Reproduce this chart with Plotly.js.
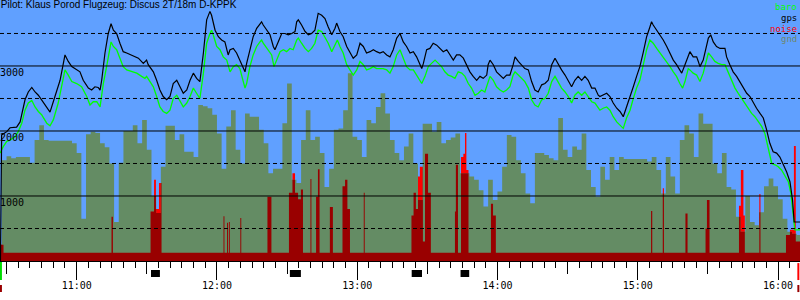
<!DOCTYPE html>
<html><head><meta charset="utf-8">
<script src="https://cdn.plot.ly/plotly-3.0.1.min.js"></script>
<style>html,body{margin:0;padding:0;background:#fff}#chart{width:800px;height:300px}</style>
</head><body><div id="chart"></div>
<script>
// ---- texts ----
const chartTitle = "Pilot: Klaus Porod Flugzeug: Discus 2T/18m D-KPPK";
const seriesNames = ["baro", "gps", "noise", "gnd"];
const seriesColors = ["#00ff00", "#000000", "#ff0000", "#6e876e"];
// ---- axes (time in minutes since midnight, altitude in m) ----
const xTickVals = [660, 720, 780, 840, 900, 960];
const xTickText = ["11:00", "12:00", "13:00", "14:00", "15:00", "16:00"];
const halfHourTicks = [630, 690, 750, 810, 870, 930];
const yLabelVals = [1000, 2000, 3000];
const gridSolid = [1000, 2000, 3000];
const gridDashed = [500, 1500, 2500, 3500];

// ---- gps altitude ----
const gpsTime = [627.4,627.9,630.1,631.5,634.3,635.8,637.9,639.3,640.8,642.2,
643.6,645.0,647.2,648.6,650.7,652.9,655.0,656.4,657.9,660.0,
661.4,662.8,665.0,666.4,667.8,669.2,670.0,670.7,672.1,673.5,
674.7,675.7,677.1,678.5,679.9,681.4,684.2,686.4,688.5,689.9,
690.6,692.8,694.2,695.6,697.0,698.5,699.9,701.3,702.8,704.2,
705.6,707.1,708.5,709.9,711.3,712.7,
714.2,715.6,717.0,717.7,719.2,720.6,722.0,723.4,724.8,725.6,
727.0,728.4,729.8,731.3,732.0,732.7,734.1,735.5,737.0,738.4,
739.1,739.8,741.3,742.7,744.1,744.8,746.2,747.7,749.1,750.5,
752.0,753.4,754.1,754.8,756.2,757.7,759.1,760.5,761.9,763.3,
764.8,766.2,767.6,769.1,770.5,771.2,772.6,774.0,775.5,776.9,
778.3,779.8,781.2,782.6,784.0,785.5,786.9,788.3,789.7,791.1,
792.6,794.0,795.4,796.9,798.3,
799.7,801.1,802.6,804.0,805.4,806.8,807.6,808.3,809.7,811.1,
812.5,814.0,815.4,816.8,818.3,819.7,821.1,822.5,823.9,825.4,
826.8,828.2,829.6,831.1,832.5,833.9,835.4,836.0,836.8,838.2,
839.6,841.1,842.5,843.9,845.3,846.7,847.5,848.9,850.3,851.7,
853.2,854.6,856.0,857.4,858.9,860.3,861.7,863.2,864.6,866.0,
867.4,868.9,870.3,871.7,873.1,874.5,876.0,877.4,878.8,880.3,
881.7,883.1,883.8,
885.2,886.7,888.1,889.5,891.0,892.4,893.8,895.2,896.7,898.1,
899.5,900.9,902.3,903.8,905.2,905.9,906.6,908.1,909.5,910.9,
912.4,913.8,915.2,916.6,918.0,918.8,920.2,921.6,922.3,923.7,
925.2,925.9,926.6,928.0,929.5,930.2,931.2,932.3,933.7,935.2,
937.3,938.0,939.4,940.8,942.3,943.7,945.1,946.6,948.0,949.4,
950.8,952.3,953.7,955.1,956.5,957.9,959.4,960.8,962.2,963.7,
965.1,966.2,966.9,968.1,969.4];
const gpsAlt = [0,1940,1990,2050,2060,2140,2480,2600,2670,2600,
2550,2480,2370,2290,2530,2780,3170,3070,2990,2940,
2910,2780,2660,2630,2680,2670,2630,2780,3200,3500,
3650,3550,3500,3350,3220,3200,3150,3120,3040,3090,
3020,2910,2780,2630,2530,2480,2530,2730,2780,2680,
2580,2630,2780,2890,2810,2760,
3200,3710,3840,3780,3550,3450,3400,3370,3170,3250,
3270,3200,3090,2960,2910,3040,3250,3450,3580,3660,
3680,3630,3550,3480,3300,3250,3370,3500,3500,3480,
3500,3530,3680,3710,3630,3530,3480,3500,3550,3810,
3780,3730,3600,3480,3580,3660,3530,3450,3300,3200,
3120,3170,3350,3300,3200,3220,3250,3220,3200,3220,
3170,3140,3250,3430,3500,
3370,3300,3200,3220,3140,3020,2960,3040,3250,3270,
3350,3320,3270,3220,3250,3170,3090,3170,3170,3120,
3020,2910,2840,2780,2840,2810,2860,3020,3090,3020,
2910,2860,2810,2860,2860,3020,3140,3070,3020,2960,
2940,2760,2630,2600,2710,2730,2780,3020,3120,3020,
2940,2860,2780,2680,2780,2840,2780,2840,2780,2660,
2660,2550,2530,
2550,2580,2530,2430,2350,2300,2220,2370,2500,2680,
2840,2990,3200,3450,3600,3680,3630,3550,3480,3400,
3300,3200,3090,3020,2940,2890,3020,3170,3220,3140,
3140,3070,2990,3090,3300,3430,3480,3370,3300,3270,
3270,3140,3020,2910,2840,2760,2660,2580,2530,2430,
2350,2270,2200,2020,1810,1680,1660,1600,1500,1370,
1220,940,600,600,600];

// ---- barometric altitude ----
const baroTime = [627.2,628.6,630.1,631.5,633.6,635.0,636.5,637.9,639.3,640.8,
642.2,643.6,645.0,647.2,648.6,650.0,652.1,653.6,655.0,656.4,
657.9,660.0,662.1,664.3,665.7,667.1,668.6,670.0,671.4,672.8,
673.9,674.7,675.7,677.1,678.5,679.9,681.4,683.5,685.7,687.8,
689.2,689.9,691.4,692.8,694.2,695.6,697.0,698.5,699.9,701.3,
702.8,704.2,705.6,707.1,708.5,709.9,711.3,712.7,
714.2,715.6,717.0,717.7,718.4,719.9,721.3,722.7,724.2,725.6,
727.0,728.4,729.8,730.6,732.0,732.7,734.1,735.5,737.0,738.4,
739.1,739.8,741.3,743.4,744.4,745.5,747.0,748.4,749.8,751.2,
752.6,754.1,754.8,756.2,757.7,759.1,760.5,761.9,763.3,764.8,
766.2,767.6,769.1,770.5,771.5,772.6,774.0,775.5,776.9,778.3,
779.8,781.2,782.6,784.0,785.5,786.9,788.3,789.7,791.1,792.6,
794.0,795.4,796.9,798.3,
799.7,801.1,802.6,804.0,805.4,806.8,807.6,809.0,810.4,811.8,
813.3,814.7,816.1,817.5,818.9,820.4,821.8,823.2,824.7,826.1,
827.5,828.9,830.4,831.8,833.2,834.6,836.0,836.8,838.2,839.6,
841.1,842.5,843.9,845.3,846.7,847.5,848.9,850.3,851.7,853.2,
854.6,856.0,857.4,858.9,860.3,861.7,863.2,864.6,866.0,867.4,
868.9,870.3,871.7,873.1,874.5,876.0,877.4,878.8,880.3,881.7,
883.1,883.8,
885.2,886.7,888.1,889.5,891.0,892.4,893.8,895.2,896.7,898.1,
899.5,900.9,902.3,903.8,905.2,906.6,908.1,909.5,910.9,912.4,
913.8,915.2,916.6,918.0,919.2,920.2,921.6,922.3,923.7,925.2,
926.6,928.0,929.5,930.2,931.6,933.0,934.4,935.9,937.3,938.7,
940.2,941.6,943.0,944.4,945.9,947.3,948.7,950.1,951.5,953.0,
954.4,955.8,957.3,958.7,960.1,961.5,962.9,964.4,965.5,966.5,
967.2,968.1,969.4];
const baroAlt = [1660,1760,1840,1860,1910,1990,2120,2320,2430,2470,
2370,2300,2250,2120,2080,2170,2430,2680,2940,2860,
2760,2730,2680,2530,2400,2450,2450,2370,2730,2990,
3200,3370,3300,3250,3120,2990,2940,2910,2890,2840,
2810,2840,2760,2680,2530,2370,2300,2270,2320,2500,
2550,2450,2370,2430,2530,2660,2580,2500,
2890,3350,3500,3550,3480,3300,3250,3140,3090,2910,
2990,3020,2960,2840,2660,2730,2990,3170,3300,3370,
3400,3350,3270,3170,2990,3090,3220,3250,3220,3270,
3250,3400,3430,3350,3270,3220,3270,3350,3550,3530,
3450,3350,3220,3320,3400,3300,3200,3020,2940,2860,
2940,3070,3020,2940,2960,2990,2960,2960,2960,2940,
2890,2990,3170,3250,
3120,2990,2940,2940,2860,2780,2730,2840,2990,3040,
3090,3040,2990,2910,2860,2840,2810,2910,2890,2840,
2730,2660,2550,2580,2630,2600,2760,2840,2780,2680,
2630,2600,2630,2680,2860,2910,2860,2810,2760,2660,
2480,2400,2370,2480,2500,2580,2760,2840,2760,2660,
2600,2530,2430,2550,2600,2550,2600,2530,2450,2430,
2350,2320,
2350,2370,2320,2220,2140,2090,2040,2200,2320,2500,
2660,2780,2990,3250,3400,3350,3270,3200,3140,3070,
2990,2910,2840,2730,2660,2760,2960,2940,2890,2860,
2760,2890,3090,3200,3140,3070,3040,3020,3020,2910,
2780,2660,2580,2500,2430,2350,2270,2220,2140,2070,
1960,1760,1500,1480,1450,1400,1320,1220,1040,730,
480,480,480];

// ---- terrain elevation under the track (step values, 2-minute samples) ----
const gndTime = [628,630,632,634,636,638,640,642,644,646,
648,650,652,654,656,658,660,662,664,666,
668,670,672,674,676,678,680,682,684,686,
688,690,692,694,696,698,700,702,704,706,
708,710,712,714,716,718,720,722,724,726,
728,730,732,734,736,738,740,742,744,746,
748,750,752,754,756,758,760,762,764,766,
768,770,772,774,776,778,780,782,784,786,
788,790,792,794,796,798,800,802,804,806,
808,810,812,814,816,818,820,822,824,826,
828,830,832,834,836,838,840,842,844,846,
848,850,852,854,856,858,860,862,864,866,
868,870,872,874,876,878,880,882,884,886,
888,890,892,894,896,898,900,902,904,906,
908,910,912,914,916,918,920,922,924,926,
928,930,932,934,936,938,940,942,944,946,
948,950,952,954,956,958,960,962,964,966,
968,970];
const gndAlt = [1550,1610,1580,1600,1600,1600,1510,1860,2090,1860,
1850,1850,1850,1850,1850,1810,1660,650,1950,1990,
1970,1810,1750,1500,600,1510,2000,2000,2090,1810,
2170,1710,1000,740,1450,2080,2080,1860,1950,1680,
1680,1600,2400,2380,2350,2250,1960,1420,2070,2320,
1710,1500,2270,2220,2220,2020,1810,1350,1420,1420,
2120,2730,1250,1200,1860,2320,1860,1910,1660,1140,
1420,2020,2040,2320,2890,1910,1860,1600,2170,2120,
2370,2580,2270,1860,1660,1550,1760,1960,1500,940,
2110,2110,1990,2140,1810,1860,1900,1960,1350,1350,
1300,1250,1090,840,1250,940,1070,1450,1940,1910,
1550,1350,1040,890,1660,1660,1630,1580,1550,2200,
1710,1600,1760,1710,1960,1400,1140,990,1450,1250,
1600,1400,1600,1570,1570,1570,1570,1570,1530,1600,
1400,1040,1600,1300,1040,1860,2090,1960,1600,2270,
2110,2110,1500,1350,1660,1140,1100,680,450,1000,
600,550,750,1150,1270,1150,950,650,450,420,
400,400];

// ---- engine noise level (step values, drawn on the altitude scale) ----
const noiseTime = [627.2,628.7,674.9,675.5,691.6,693.1,693.9,695.2,696.3,
722.8,723.2,724.3,724.7,725.1,725.5,730.0,730.4,741.6,743.3,
750.8,752.3,753.4,754.7,755.9,756.8,760.0,760.4,762.4,763.2,763.9,
768.3,769.6,773.7,774.8,775.8,776.9,782.8,783.2,
803.2,804.1,805.1,806.0,806.8,808.1,809.0,810.3,811.5,
821.8,822.2,823.1,824.4,825.4,826.1,826.7,827.6,837.2,838.1,839.3,
905.7,906.2,910.7,911.2,920.4,921.3,929.0,929.6,930.7,
943.3,944.1,945.2,945.8,952.0,952.5,963.4,965.1,966.8,967.6,969.4];
const noiseVal = [250,125,680,125,760,1250,800,1200,125,
690,125,590,125,600,125,660,125,990,125,
1050,1350,1050,950,1100,125,1260,125,990,1410,125,
830,125,1150,1250,800,125,1050,125,
700,1050,800,1300,1450,300,1650,1050,125,
760,1480,125,1600,1650,1970,1400,125,880,700,125,
770,125,1120,125,730,125,500,940,125,
850,1400,700,125,1030,125,400,480,1770,300,300];

// ---- engine-run markers, take-off and landing ----
const engineStart = [691.8, 751.2, 803.3, 824.2];
const engineEnd   = [695.6, 755.9, 807.7, 827.9];
const takeoffTime = 627.6;
const landingTime = 968.7;

const X_RANGE = [627.2, 969.4];
const Y_RANGE = [0, 4015];
const MONO = "DejaVu Sans Mono, monospace";

function stepAt(ts, vs, t) {
  let v = vs[0];
  for (let i = 0; i < ts.length; i++) { if (ts[i] <= t) v = vs[i]; else break; }
  return v;
}
const breaks = Array.from(new Set(noiseTime.concat(gndTime))).sort((a, b) => a - b);
const noiseUnderGnd = breaks.map(t => Math.min(stepAt(noiseTime, noiseVal, t), stepAt(gndTime, gndAlt, t)));

const stepFill = (x, y, color, name) => ({
  x, y, name, type: "scatter", mode: "lines", line: {shape: "hv", width: 0, color},
  fill: "tozeroy", fillcolor: color, hoverinfo: "skip"
});

const traces = [
  stepFill(noiseTime, noiseVal, "#ff0000", "noise"),
  stepFill(gndTime, gndAlt, "#648c64", "gnd"),
  stepFill(breaks, noiseUnderGnd, "#990000", "noise"),
  {x: baroTime, y: baroAlt, name: "baro", xaxis: "x2", type: "scatter", mode: "lines",
   line: {color: "#00ff00", width: 1.3}, hoverinfo: "skip"},
  {x: gpsTime, y: gpsAlt, name: "gps", xaxis: "x3", type: "scatter", mode: "lines",
   line: {color: "#000000", width: 1.2}, hoverinfo: "skip"}
];

const shapes = [];
gridSolid.forEach(v => shapes.push({type: "line", xref: "paper", x0: 0, x1: 1, yref: "y", y0: v, y1: v,
  line: {color: "#000", width: 1}, layer: "above"}));
gridDashed.forEach(v => shapes.push({type: "line", xref: "paper", x0: 0, x1: 1, yref: "y", y0: v, y1: v,
  line: {color: "#000", width: 1, dash: "4px,3px"}, layer: "above"}));
engineStart.forEach((s, i) => shapes.push({type: "rect", xref: "x", x0: s, x1: engineEnd[i], yref: "paper",
  y0: -0.0345, y1: -0.0613, fillcolor: "#000", line: {width: 0}, layer: "above"}));
shapes.push({type: "line", xref: "x", x0: takeoffTime, x1: takeoffTime, yref: "paper", y0: -0.004, y1: -0.073,
  line: {color: "#00dd00", width: 2}, layer: "above"});
[takeoffTime, landingTime].forEach(t => shapes.push({type: "line", xref: "x", x0: t, x1: t, yref: "paper",
  y0: -0.092, y1: -0.119, line: {color: "#990000", width: 2}, layer: "above"}));
shapes.push({type: "line", xref: "x", x0: landingTime, x1: landingTime, yref: "paper", y0: -0.008, y1: -0.073,
  line: {color: "#ff0000", width: 2}, layer: "above"});

const annotations = [];
yLabelVals.forEach(v => annotations.push({xref: "paper", x: 0, xanchor: "left", yref: "y", y: v, yanchor: "top",
  text: String(v), showarrow: false, borderpad: 0, xshift: -1, yshift: 0,
  font: {family: MONO, size: 10, color: "#000"}}));
seriesNames.forEach((n, i) => annotations.push({xref: "paper", x: 1, xanchor: "right", yref: "paper",
  y: 1 - (6.8 + 10.9 * i) / 261, yanchor: "middle", text: n, showarrow: false,
  borderpad: 0, xshift: -2, font: {family: MONO, size: 9, color: seriesColors[i]}}));

const axisCommon = {type: "linear", range: X_RANGE, showgrid: false, zeroline: false, fixedrange: true,
  tickwidth: 1, tickcolor: "#000"};

const layout = {
  width: 800, height: 300,
  margin: {l: 0, r: 0, t: 0, b: 39, pad: 0},
  paper_bgcolor: "#ffffff", plot_bgcolor: "#60a0ff",
  showlegend: false,
  title: {text: chartTitle, x: 0.001, xref: "paper", xanchor: "left", y: 0.997, yref: "container", yanchor: "top",
    pad: {t: 0, l: 0, r: 0, b: 0}, font: {family: "Liberation Sans, Arial, sans-serif", size: 10, color: "#000"}},
  // hour labels + 5-minute minor ticks
  xaxis: Object.assign({}, axisCommon, {tickvals: xTickVals, ticktext: xTickText, ticks: "outside", ticklen: 15,
    showline: true, linecolor: "#000", linewidth: 1,
    tickfont: {family: MONO, size: 10, color: "#000"},
    minor: {dtick: 5, tick0: 0, ticks: "outside", ticklen: 6, tickwidth: 1, tickcolor: "#000", showgrid: false}}),
  // half-hour ticks
  xaxis2: Object.assign({}, axisCommon, {overlaying: "x", anchor: "y", side: "bottom", tickvals: halfHourTicks,
    ticks: "outside", ticklen: 12, showticklabels: false, showline: false}),
  // long hour ticks
  xaxis3: Object.assign({}, axisCommon, {overlaying: "x", anchor: "y", side: "bottom", tickvals: xTickVals,
    ticks: "outside", ticklen: 18, showticklabels: false, showline: false}),
  yaxis: {range: Y_RANGE, showgrid: false, zeroline: false, showticklabels: false, ticks: "",
    showline: false, fixedrange: true},
  shapes, annotations
};

Plotly.newPlot("chart", traces, layout, {displayModeBar: false, staticPlot: true});
</script>
</body></html>
